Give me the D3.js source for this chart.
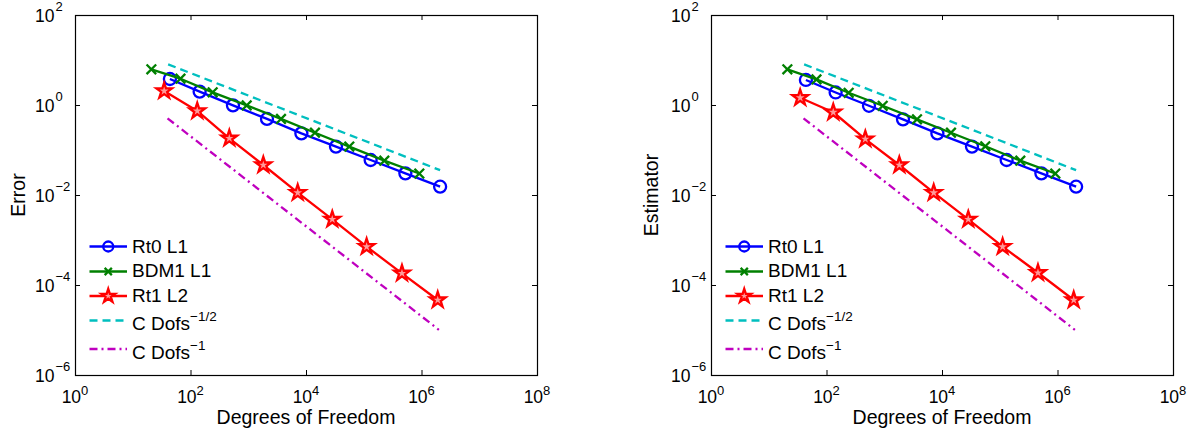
<!DOCTYPE html>
<html>
<head>
<meta charset="utf-8">
<script src="https://cdn.jsdelivr.net/npm/d3@7/dist/d3.min.js"></script>
<style>
  html, body { margin: 0; padding: 0; background: #fff; }
  svg { display: block; font-family: "Liberation Sans", Arial, Helvetica, sans-serif; }
</style>
</head>
<body>
<svg id="chart" width="1196" height="436"></svg>
<script>
// ---------------- data ----------------
const xTickExps = [0, 2, 4, 6, 8];
const yTickExps = [2, 0, -2, -4, -6];

const dofsRt0  = [44, 144, 544, 2112, 8320, 33024, 131584, 525568, 2100736];
const dofsBDM1 = [21, 67, 242, 940, 3690, 14300, 56200, 227000, 916000];
const dofsRt1  = [35, 131, 470, 1824, 7190, 28500, 112200, 459000, 1910000];

const errRt0  = [3.78, 1.98, 0.98, 0.49, 0.234, 0.119, 0.060, 0.0303, 0.0153];
const errBDM1 = [6.2, 3.84, 1.91, 0.98, 0.49, 0.242, 0.119, 0.058, 0.030];
const errRt1  = [2.05, 0.736, 0.182, 0.0464, 0.01125, 0.00288, 0.00071, 0.000182, 0.0000464];

const estRt0  = [3.6, 1.9, 0.96, 0.48, 0.234, 0.119, 0.060, 0.0303, 0.0153];
const estBDM1 = [6.2, 3.7, 1.87, 0.96, 0.48, 0.242, 0.121, 0.058, 0.030];
const estRt1  = [1.45, 0.69, 0.175, 0.0464, 0.01125, 0.00288, 0.00071, 0.000187, 0.0000464];

const refHalfX = [41, 2100000];
const refHalfY = [8.0, 0.0356];
const refOneX  = [40, 2000000];
const refOneY  = [0.506, 0.0000101];

const legendLabels = ["Rt0 L1", "BDM1 L1", "Rt1 L2", "C Dofs", "C Dofs"];
const legendExps   = ["", "", "", "\u22121/2", "\u22121"];
const panelYLabels = ["Error", "Estimator"];
const xLabel = "Degrees of Freedom";

// ---------------- styling ----------------
const COL = { blue: "#0000ff", green: "#008000", red: "#ff0000", cyan: "#00bfbf", mag: "#bf00bf" };
const LW = 2.3;
const svg = d3.select("#chart");
svg.append("rect").attr("width", 1196).attr("height", 436).attr("fill", "#fff");

function starPath(R) {
  const r = R * 0.382, pts = [];
  for (let i = 0; i < 10; i++) {
    const a = -Math.PI / 2 + i * Math.PI / 5, rr = i % 2 ? r : R;
    pts.push([rr * Math.cos(a), rr * Math.sin(a)]);
  }
  return "M" + pts.map(p => p[0].toFixed(2) + "," + p[1].toFixed(2)).join("L") + "Z";
}
function crossPath(h) {
  return `M${-h},${-h}L${h},${h}M${-h},${h}L${h},${-h}`;
}

function marker(g, type, x, y, color, size) {
  if (type === "circle") {
    g.append("circle").attr("cx", x).attr("cy", y).attr("r", size)
      .attr("fill", "none").attr("stroke", color).attr("stroke-width", LW);
  } else if (type === "cross") {
    g.append("path").attr("transform", `translate(${x},${y})`).attr("d", crossPath(size))
      .attr("fill", "none").attr("stroke", color).attr("stroke-width", LW);
  } else if (type === "star") {
    g.append("path").attr("transform", `translate(${x},${y})`).attr("d", starPath(size))
      .attr("fill", "#ff9a9a").attr("stroke", color).attr("stroke-width", LW).attr("stroke-linejoin", "miter");
  }
}

function drawPanel(left, yLabel, yLabelX, rt0, bdm1, rt1) {
  const right = left + 462, top = 15, bottom = 375;
  const x = d3.scaleLog().domain([1, 1e8]).range([left, right]);
  const y = d3.scaleLog().domain([1e-6, 1e2]).range([bottom, top]);
  const g = svg.append("g");

  // axes box
  g.append("rect").attr("x", left + 0.5).attr("y", top + 0.5)
    .attr("width", right - left).attr("height", bottom - top)
    .attr("fill", "none").attr("stroke", "#000").attr("stroke-width", 1.2);

  // ticks (inward, on all four sides) via d3 axes
  const xb = d3.axisBottom(x).tickValues(xTickExps.map(e => Math.pow(10, e))).tickSizeInner(-5).tickSizeOuter(0).tickFormat("");
  const xt = d3.axisTop(x).tickValues(xTickExps.map(e => Math.pow(10, e))).tickSizeInner(-5).tickSizeOuter(0).tickFormat("");
  const yl = d3.axisLeft(y).tickValues(yTickExps.map(e => Math.pow(10, e))).tickSizeInner(-5).tickSizeOuter(0).tickFormat("");
  const yr = d3.axisRight(y).tickValues(yTickExps.map(e => Math.pow(10, e))).tickSizeInner(-5).tickSizeOuter(0).tickFormat("");
  [[xb, `translate(0,${bottom})`], [xt, `translate(0,${top})`], [yl, `translate(${left},0)`], [yr, `translate(${right},0)`]]
    .forEach(([ax, tr]) => {
      const a = g.append("g").attr("transform", tr).call(ax);
      a.select(".domain").remove();
      a.selectAll("line").attr("stroke", "#000").attr("stroke-width", 1);
    });

  // x tick labels
  xTickExps.forEach(e => {
    const t = g.append("text").attr("x", x(Math.pow(10, e))).attr("y", 403)
      .attr("text-anchor", "middle").attr("font-size", 17.5).attr("fill", "#000");
    t.append("tspan").text("10");
    t.append("tspan").attr("font-size", 13).attr("dy", -8.5).text(String(e));
  });
  // y tick labels
  yTickExps.forEach(e => {
    const yy = y(Math.pow(10, e));
    g.append("text").attr("x", left - 20.5).attr("y", yy + 7)
      .attr("text-anchor", "end").attr("font-size", 17.5).attr("fill", "#000").text("10");
    g.append("text").attr("x", left - 19.5).attr("y", yy - 4.5)
      .attr("text-anchor", "start").attr("font-size", 13).attr("fill", "#000")
      .text(e < 0 ? "\u2212" + Math.abs(e) : String(e));
  });

  // axis labels
  g.append("text").attr("x", (left + right) / 2).attr("y", 424)
    .attr("text-anchor", "middle").attr("font-size", 19.5).attr("fill", "#000").text(xLabel);
  g.append("text").attr("transform", `translate(${yLabelX},${(top + bottom) / 2}) rotate(-90)`)
    .attr("text-anchor", "middle").attr("font-size", 19.5).attr("fill", "#000").text(yLabel);

  const line = d3.line().x(d => x(d[0])).y(d => y(d[1]));
  const series = [
    { xs: dofsRt0, ys: rt0, color: COL.blue, m: "circle", ms: 6 },
    { xs: dofsBDM1, ys: bdm1, color: COL.green, m: "cross", ms: 4.8 },
    { xs: dofsRt1, ys: rt1, color: COL.red, m: "star", ms: 8.2 }
  ];
  series.forEach(s => {
    const pts = s.xs.map((v, i) => [v, s.ys[i]]);
    g.append("path").attr("d", line(pts)).attr("fill", "none").attr("stroke", s.color)
      .attr("stroke-width", LW).attr("stroke-linejoin", "round");
    pts.forEach(p => marker(g, s.m, x(p[0]), y(p[1]), s.color, s.ms));
  });
  g.append("path").attr("d", line(refHalfX.map((v, i) => [v, refHalfY[i]])))
    .attr("fill", "none").attr("stroke", COL.cyan).attr("stroke-width", LW).attr("stroke-dasharray", "8,5");
  g.append("path").attr("d", line(refOneX.map((v, i) => [v, refOneY[i]])))
    .attr("fill", "none").attr("stroke", COL.mag).attr("stroke-width", LW).attr("stroke-dasharray", "8,4,2,4");

  // legend (no box)
  const lx0 = left + 14.5, lx1 = left + 52, tx = left + 57;
  const rowsY = [246.5, 271.5, 296, 320.5, 349];
  const baseY = [252.7, 277.3, 301.7, 330, 359.3];
  const legStyle = [
    { c: COL.blue, m: "circle", ms: 5, dash: null },
    { c: COL.green, m: "cross", ms: 3.6, dash: null },
    { c: COL.red, m: "star", ms: 7.2, dash: null },
    { c: COL.cyan, m: null, dash: "8,5" },
    { c: COL.mag, m: null, dash: "8,4,2,4" }
  ];
  legendLabels.forEach((lab, i) => {
    const st = legStyle[i];
    const ln = g.append("line").attr("x1", lx0).attr("x2", lx1).attr("y1", rowsY[i]).attr("y2", rowsY[i])
      .attr("stroke", st.c).attr("stroke-width", LW);
    if (st.dash) ln.attr("stroke-dasharray", st.dash);
    if (st.m) marker(g, st.m, (lx0 + lx1) / 2, rowsY[i], st.c, st.ms);
    const t = g.append("text").attr("x", tx).attr("y", baseY[i]).attr("font-size", 19).attr("fill", "#000");
    t.append("tspan").text(lab);
    if (legendExps[i]) t.append("tspan").attr("font-size", 13.5).attr("dy", -9).text(legendExps[i]);
  });
}

drawPanel(75, panelYLabels[0], 24.5, errRt0, errBDM1, errRt1);
drawPanel(711, panelYLabels[1], 658, estRt0, estBDM1, estRt1);
</script>
</body>
</html>
